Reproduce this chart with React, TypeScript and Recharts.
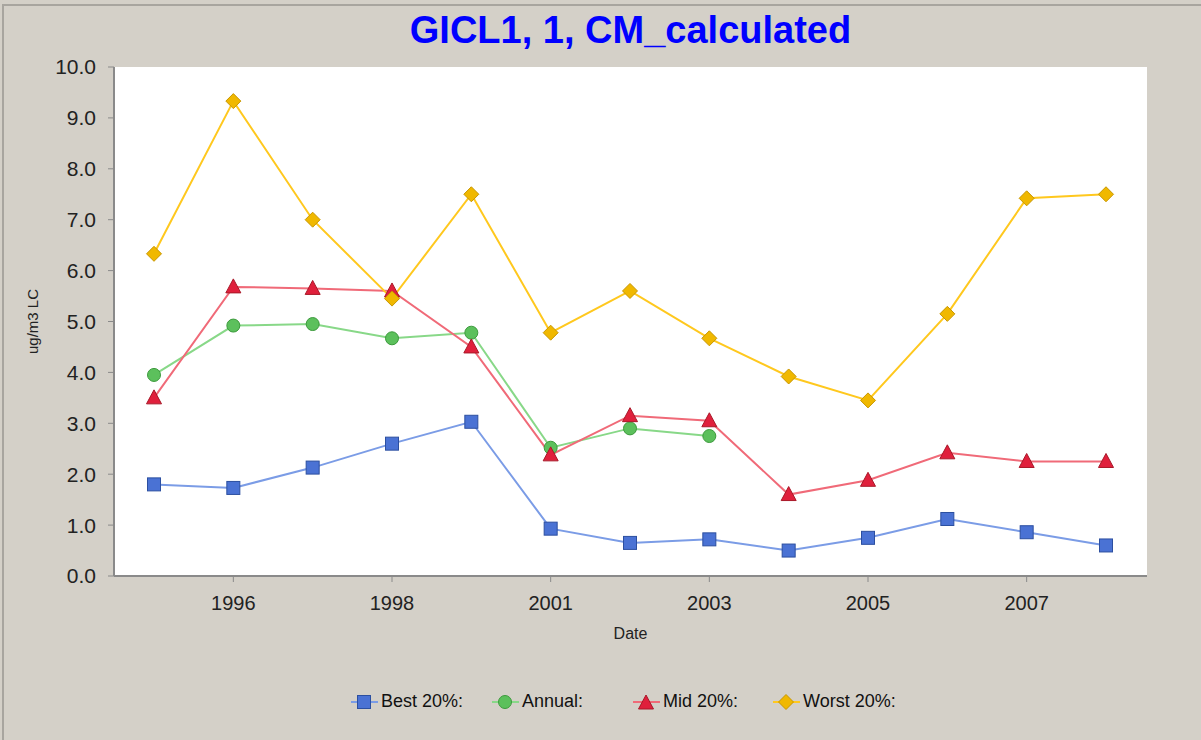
import React from 'react';
import { LineChart, Line, XAxis, YAxis, CartesianGrid } from 'recharts';

const years = ['1995', '1996', '1997', '1998', '2000', '2001', '2002', '2003', '2004', '2005', '2006', '2007', '2008'];
const best = [1.8, 1.73, 2.13, 2.6, 3.03, 0.93, 0.65, 0.72, 0.5, 0.75, 1.12, 0.86, 0.6];
const annual: (number | null)[] = [3.95, 4.92, 4.95, 4.67, 4.78, 2.52, 2.9, 2.75, null, null, null, null, null];
const mid = [3.5, 5.68, 5.65, 5.6, 4.5, 2.38, 3.15, 3.05, 1.6, 1.88, 2.42, 2.25, 2.25];
const worst = [6.33, 9.33, 7.0, 5.45, 7.5, 4.78, 5.6, 4.67, 3.92, 3.45, 5.15, 7.42, 7.5];
const xTicks = ['1996', '1998', '2001', '2003', '2005', '2007'];
const yTicks = [0, 1, 2, 3, 4, 5, 6, 7, 8, 9, 10];

const data = years.map((year, i) => ({
  year,
  best: best[i],
  annual: annual[i],
  mid: mid[i],
  worst: worst[i],
}));

const FONT = '"Liberation Sans", Arial, sans-serif';

const Square = (p: any) => {
  if (p.cx == null || p.cy == null || p.value == null) return null;
  return <rect key={p.key} x={p.cx - 6.5} y={p.cy - 6.5} width={13} height={13} fill="#4a72d4" stroke="#2c4fa0" strokeWidth={1} />;
};
const Circle = (p: any) => {
  if (p.cx == null || p.cy == null || p.value == null) return null;
  return <circle key={p.key} cx={p.cx} cy={p.cy} r={6.5} fill="#5cc05c" stroke="#3c9a3c" strokeWidth={1} />;
};
const Triangle = (p: any) => {
  if (p.cx == null || p.cy == null || p.value == null) return null;
  const { cx, cy } = p;
  return <path key={p.key} d={`M${cx},${cy - 8} L${cx + 7.5},${cy + 6} L${cx - 7.5},${cy + 6} Z`} fill="#e0203c" stroke="#a81828" strokeWidth={1} />;
};
const Diamond = (p: any) => {
  if (p.cx == null || p.cy == null || p.value == null) return null;
  const { cx, cy } = p;
  return <path key={p.key} d={`M${cx},${cy - 7.5} L${cx + 7.5},${cy} L${cx},${cy + 7.5} L${cx - 7.5},${cy} Z`} fill="#f0b800" stroke="#c89600" strokeWidth={1} />;
};

const legendItems = [
  { name: 'Best 20%:', line: '#7b9ce6', icon: 'square' },
  { name: 'Annual:', line: '#88d888', icon: 'circle' },
  { name: 'Mid 20%:', line: '#f06a78', icon: 'triangle' },
  { name: 'Worst 20%:', line: '#ffc81e', icon: 'diamond' },
];
const legendX = [351, 492, 633, 773];

const LegendIcon = ({ icon, line }: { icon: string; line: string }) => {
  const c = 13, m = 10;
  return (
    <svg width={27} height={20} style={{ display: 'block' }}>
      <line x1={0} y1={m} x2={27} y2={m} stroke={line} strokeWidth={2} />
      {icon === 'square' && Square({ cx: c, cy: m, value: 1 })}
      {icon === 'circle' && Circle({ cx: c, cy: m, value: 1 })}
      {icon === 'triangle' && Triangle({ cx: c, cy: m + 1, value: 1 })}
      {icon === 'diamond' && Diamond({ cx: c, cy: m, value: 1 })}
    </svg>
  );
};

export default function App() {
  return (
    <div style={{ position: 'absolute', left: 0, top: 0, width: 1201, height: 740, background: '#d4d0c8', fontFamily: FONT, overflow: 'hidden' }}>
      <div style={{ position: 'absolute', left: 2, top: 4, right: 0, bottom: 0, borderTop: '2px solid #a8a59f', borderLeft: '2px solid #a8a59f' }} />
      <div style={{ position: 'absolute', left: 114, width: 1033, top: 9, textAlign: 'center', color: '#0000ff', fontWeight: 'bold', fontSize: 38 }}>
        GICL1, 1, CM_calculated
      </div>
      <div style={{ position: 'absolute', left: 0, top: 0 }}>
        <LineChart width={1201} height={740} data={data} margin={{ top: 67, right: 54, bottom: 104, left: 33 }}>
          <CartesianGrid fill="#ffffff" horizontal={false} vertical={false} />
          <XAxis
            dataKey="year"
            xAxisId="main"
            ticks={xTicks}
            interval={0}
            padding={{ left: 40, right: 41 }}
            height={60}
            stroke="#8a8a8a"
            axisLine={{ stroke: '#8a8a8a', strokeWidth: 2 }}
            tickSize={6}
            tick={{ fill: '#222', fontSize: 20, fontFamily: FONT }}
            tickMargin={14}
            label={{ value: 'Date', position: 'insideBottom', offset: -3, style: { fill: '#222', fontSize: 16, fontFamily: FONT } }}
          />
          <XAxis dataKey="year" xAxisId="top" orientation="top" height={0} tick={false} tickLine={false} axisLine={{ stroke: '#8a8a8a', strokeWidth: 1 }} />
          <YAxis
            yAxisId="main"
            domain={[0, 10]}
            ticks={yTicks}
            interval={0}
            width={81}
            stroke="#8a8a8a"
            axisLine={{ stroke: '#8a8a8a', strokeWidth: 2 }}
            tickSize={6}
            tickMargin={12}
            tickFormatter={(v: number) => v.toFixed(1)}
            tick={{ fill: '#222', fontSize: 21, fontFamily: FONT }}
            label={{ value: 'ug/m3 LC', angle: -90, position: 'insideLeft', offset: 0, style: { textAnchor: 'middle', fill: '#222', fontSize: 15, fontFamily: FONT } }}
          />
          <YAxis yAxisId="right" orientation="right" domain={[0, 10]} width={0} tick={false} tickLine={false} axisLine={{ stroke: '#8a8a8a', strokeWidth: 1 }} />
          <Line xAxisId="main" yAxisId="main" dataKey="best" stroke="#7b9ce6" strokeWidth={2} dot={Square} activeDot={false} isAnimationActive={false} />
          <Line xAxisId="main" yAxisId="main" dataKey="annual" stroke="#88d888" strokeWidth={2} dot={Circle} activeDot={false} isAnimationActive={false} />
          <Line xAxisId="main" yAxisId="main" dataKey="mid" stroke="#f06a78" strokeWidth={2} dot={Triangle} activeDot={false} isAnimationActive={false} />
          <Line xAxisId="main" yAxisId="main" dataKey="worst" stroke="#ffc81e" strokeWidth={2} dot={Diamond} activeDot={false} isAnimationActive={false} />
        </LineChart>
      </div>
      {legendItems.map((it, i) => (
        <div key={it.name} style={{ position: 'absolute', left: legendX[i], top: 691, display: 'flex', alignItems: 'center', fontSize: 18, color: '#111' }}>
          <LegendIcon icon={it.icon} line={it.line} />
          <span style={{ marginLeft: 3 }}>{it.name}</span>
        </div>
      ))}
    </div>
  );
}
